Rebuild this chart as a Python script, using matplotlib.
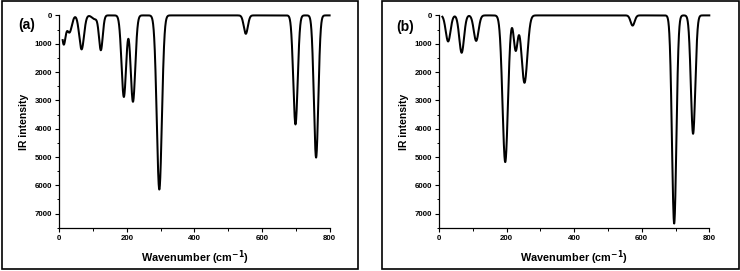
import matplotlib
matplotlib.use("Agg")
import matplotlib.pyplot as plt
from matplotlib.patches import Rectangle
from matplotlib.ticker import MultipleLocator
import numpy as np

plt.rcParams['font.family'] = ['Liberation Sans', 'DejaVu Sans']
plt.rcParams['font.weight'] = 'bold'
plt.rcParams['mathtext.default'] = 'bf'

# peak list: centre (cm-1), IR intensity, gaussian width
pos_a = [13, 30, 66, 105, 123, 191, 218, 296, 552, 699, 760]
int_a = [1000, 600, 1200, 130, 1220, 2880, 3050, 6150, 650, 3850, 5020]
wid_a = [5.5, 7, 7, 8, 5.5, 6.8, 6.8, 7.5, 6, 6.5, 6.5]

pos_b = [27, 67, 110, 196, 227, 253, 573, 696, 752]
int_b = [920, 1320, 900, 5180, 1230, 2380, 360, 7350, 4180]
wid_b = [7, 7, 7, 8, 5.9, 8.5, 6, 6.5, 6.5]

panel_labels = ['(a)', '(b)']
xticks = [0, 200, 400, 600, 800]
yticks = [0, 1000, 2000, 3000, 4000, 5000, 6000, 7000]

wn = np.linspace(10, 800, 4000)

def spectrum(pos, inten, wid):
    s = np.zeros_like(wn)
    for p, h, w in zip(pos, inten, wid):
        s += h * np.exp(-(wn - p) ** 2 / (2 * w ** 2))
    return s

W, H = 740, 271
fig = plt.figure(figsize=(W / 100, H / 100), dpi=100)

# outer frames
for x0, x1 in [(1.5, 357.7), (381.7, 739)]:
    fig.add_artist(Rectangle((x0 / W, 1 - 269 / H), (x1 - x0) / W, 268 / H,
                             transform=fig.transFigure, fill=False,
                             edgecolor='black', lw=1.2))

data = [(pos_a, int_a, wid_a), (pos_b, int_b, wid_b)]
lefts = [59.3, 439.0]
for k in range(2):
    ax = fig.add_axes([lefts[k] / W, 1 - 227.8 / H, 270.3 / W, (227.8 - 15.4) / H])
    y = spectrum(*data[k])
    ax.plot(wn, y, color='black', lw=1.45, clip_on=False)
    ax.set_xlim(0, 800)
    ax.set_ylim(7500, 0)
    ax.set_xticks(xticks)
    ax.set_yticks(yticks)
    ax.xaxis.set_minor_locator(MultipleLocator(100))
    ax.yaxis.set_minor_locator(MultipleLocator(500))
    ax.spines['top'].set_visible(False)
    ax.spines['right'].set_visible(False)
    for sp in ['left', 'bottom']:
        ax.spines[sp].set_linewidth(0.9)
    ax.tick_params(axis='both', which='major', direction='out', length=3,
                   width=0.8, labelsize=5.7, pad=2)
    ax.tick_params(axis='both', which='minor', direction='out', length=1.8,
                   width=0.7)
    for t in ax.get_xticklabels() + ax.get_yticklabels():
        t.set_fontweight('bold')
    ax.set_xlabel('Wavenumber (cm$^{-1}$)', fontsize=7.8,
                  fontweight='bold', labelpad=5)
    ax.set_ylabel('IR intensity', fontsize=7.5, fontweight='bold', labelpad=4)
    ax.patch.set_alpha(0)

fig.text(27 / W, 1 - 25 / H, panel_labels[0], fontsize=10, fontweight='bold',
         ha='center', va='center')
fig.text(405 / W, 1 - 27 / H, panel_labels[1], fontsize=10, fontweight='bold',
         ha='center', va='center')

fig.savefig('out.png', dpi=100)
